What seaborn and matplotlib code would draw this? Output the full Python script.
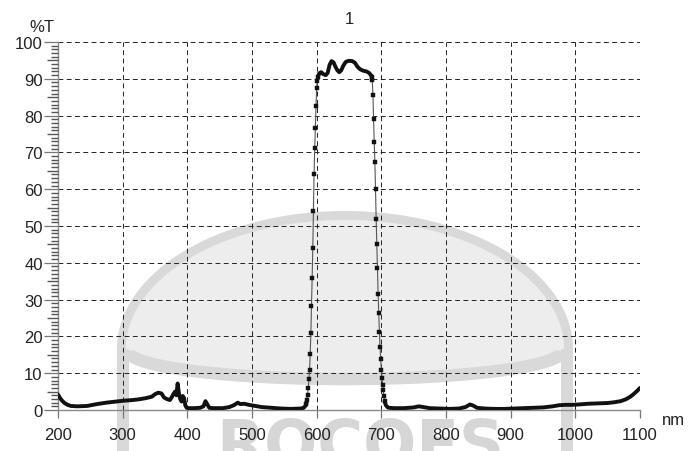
import numpy as np
import pandas as pd
import matplotlib
matplotlib.use("Agg")
import matplotlib.pyplot as plt
from matplotlib.patches import Polygon, Rectangle
from matplotlib.ticker import FixedLocator, NullLocator
import seaborn as sns

# ---------------- data ----------------
wavelength_nm = [
    200, 203, 206, 210, 215, 220, 230, 245, 260, 275, 290, 300, 315, 325, 335, 345,
    350, 355, 360, 364, 368, 373, 376, 378, 381, 383, 385, 387, 389, 391, 393, 395,
    397, 399, 402, 410, 420, 425, 428, 431, 434, 440, 455, 465, 472, 478, 482, 488,
    495, 505, 515, 530, 545, 560, 575, 580, 583,
    584, 585, 586, 587, 588, 589, 590, 591, 592, 593, 594, 595, 596, 597, 598, 599,
    600, 601, 602,
    604, 607, 610, 614, 617, 620, 623, 626, 629, 632, 635, 638, 641, 645, 650, 655,
    659, 663, 667, 672, 677, 681, 684, 685,
    686, 687, 688, 689, 690, 691, 692, 693, 694, 695, 696, 697, 698, 699, 700, 701,
    702, 703, 704, 705, 707, 710,
    712, 720, 735, 750, 758, 765, 775, 790, 805, 820, 830, 837, 842, 848, 860, 875,
    890, 905, 920, 935, 950, 965, 975, 985, 995, 1005, 1020, 1035, 1050, 1060, 1070,
    1078, 1085, 1090, 1095, 1100,
]
transmission_pct = [
    4.2, 3.3, 2.6, 1.9, 1.4, 1.1, 1.0, 1.1, 1.6, 2.0, 2.3, 2.5, 2.7, 2.9, 3.2, 3.6,
    4.3, 4.7, 4.5, 3.4, 3.0, 2.7, 3.5, 4.2, 5.0, 4.0, 7.2, 4.5, 3.0, 2.3, 3.8, 3.2,
    1.2, 0.6, 0.5, 0.5, 0.6, 1.0, 2.4, 1.5, 0.6, 0.5, 0.5, 0.8, 1.3, 2.0, 1.6, 1.7,
    1.4, 1.1, 0.8, 0.6, 0.4, 0.3, 0.4, 0.6, 1.2,
    1.7, 2.8, 4.2, 6.0, 8.3, 10.8, 15.3, 20.8, 28.3, 35.8, 44.0, 54.0, 64.2, 71.3, 76.7, 82.6,
    87.4, 89.4, 90.5,
    91.5, 91.8, 91.3, 91.0, 91.6, 93.8, 94.8, 94.5, 93.3, 92.3, 91.8, 92.3, 93.5, 94.6, 94.9, 94.8,
    94.4, 93.3, 92.6, 92.2, 92.0, 91.6, 91.0, 90.6,
    89.6, 85.7, 79.0, 72.9, 67.4, 60.0, 51.8, 45.0, 38.7, 31.5, 26.4, 21.2, 17.0, 13.8, 11.0, 8.7,
    6.9, 5.3, 3.7, 2.4, 1.3, 0.7,
    0.6, 0.5, 0.5, 0.7, 1.0, 0.8, 0.5, 0.4, 0.3, 0.4, 0.8, 1.5, 1.2, 0.6, 0.4, 0.3,
    0.3, 0.4, 0.5, 0.6, 0.7, 1.0, 1.3, 1.4, 1.4, 1.5, 1.7, 1.8, 1.9, 2.1, 2.4,
    2.9, 3.6, 4.3, 5.1, 6.0,
]
x_ticks = [200, 300, 400, 500, 600, 700, 800, 900, 1000, 1100]
y_ticks = [0, 10, 20, 30, 40, 50, 60, 70, 80, 90, 100]
y_minor_step = 1
chart_title = "1"
x_unit = "nm"
y_unit = "%T"

df = pd.DataFrame({"nm": wavelength_nm, "T": transmission_pct})

# ---------------- style ----------------
sns.set_style("ticks")
plt.rcParams["font.family"] = ["Liberation Sans", "DejaVu Sans"]

W, H = 689, 452
fig = plt.figure(figsize=(W / 100, H / 100), dpi=100)

# ---------------- background watermark (decoration) ----------------
bg = fig.add_axes([0, 0, 1, 1])
bg.set_xlim(0, W)
bg.set_ylim(H, 0)
bg.axis("off")
bg.set_zorder(0)
band = "#d9d9d9"
cx, base = 345, 350
t = np.linspace(0, np.pi, 300)
upper_in = np.column_stack([cx - 219 * np.cos(t), base - 129 * np.sin(t)])
lower_mid = np.column_stack([cx + 219 * np.cos(t), base + 2 + 28 * np.sin(t)])
bg.add_patch(Polygon(np.vstack([upper_in, lower_mid]), closed=True,
                     facecolor="#ededed", edgecolor="none"))
bg.plot(cx - 223.5 * np.cos(t), base - 133.5 * np.sin(t), color=band, lw=6.5,
        solid_capstyle="butt")
bg.plot(cx - 217 * np.cos(t), base + 2 + 28 * np.sin(t), color=band, lw=9,
        solid_capstyle="butt")
bg.add_patch(Rectangle((117, base), 12, H - base, facecolor=band, edgecolor="none"))
bg.add_patch(Rectangle((561, base), 12, H - base, facecolor=band, edgecolor="none"))
bg.text(360, 418, "ROCOES", ha="center", va="top", fontsize=45, fontweight="bold",
        color="#d6d6d6", family="DejaVu Sans")

# ---------------- main axes ----------------
ax_w_px = 582
ax = fig.add_axes([58 / W, 1 - 411 / H, ax_w_px / W, 368 / H])
ax.set_zorder(1)
ax.patch.set_alpha(0)

edge_rise = df[(df.nm >= 584) & (df.nm <= 602)]
edge_fall = df[(df.nm >= 685) & (df.nm <= 706)]
flat_left = df[df.nm <= 585]
flat_top = df[(df.nm >= 602) & (df.nm <= 686)]
flat_right = df[df.nm >= 705]

for part in (flat_left, flat_top, flat_right):
    sns.lineplot(data=part, x="nm", y="T", ax=ax, color="#111111", lw=2.8,
                 estimator=None, sort=False, zorder=3)
for part in (edge_rise, edge_fall):
    sns.lineplot(data=part, x="nm", y="T", ax=ax, color="#555555", lw=0.8,
                 marker="s", markersize=3.0, markerfacecolor="#111111",
                 markeredgecolor="#111111", markeredgewidth=0.3,
                 estimator=None, sort=False, zorder=4)

ax.set_xlim(x_ticks[0], x_ticks[-1])
ax.set_ylim(y_ticks[0], y_ticks[-1])
ax.xaxis.set_major_locator(FixedLocator(x_ticks))
ax.yaxis.set_major_locator(FixedLocator(y_ticks))
ax.xaxis.set_minor_locator(NullLocator())
ax.yaxis.set_minor_locator(NullLocator())
ax.set_xlabel("")
ax.set_ylabel("")

ax.grid(True, which="major", color="#222222", lw=0.7, ls=(0, (5, 3.5)), zorder=1)
ax.set_axisbelow(True)

for s in ("top", "right"):
    ax.spines[s].set_visible(False)
for s in ("left", "bottom"):
    ax.spines[s].set_color("#8a8a8a")
    ax.spines[s].set_linewidth(1.0)

ax.tick_params(axis="x", which="major", direction="out", length=6, width=0.9,
               color="#777777", pad=6, labelsize=12, labelcolor="#222222")
ax.tick_params(axis="y", which="major", direction="out", length=10, width=0.9,
               color="#777777", pad=1, labelsize=12, labelcolor="#222222")

# fine scale marks along the y axis (every unit, longer at the fives)
minor_vals = [v for v in np.arange(y_ticks[0], y_ticks[-1] + 0.5, y_minor_step)
              if v % 10 != 0]
short = [v for v in minor_vals if v % 5 != 0]
mid = [v for v in minor_vals if v % 5 == 0]
ytr = ax.get_yaxis_transform()
ax.hlines(short, -7 / ax_w_px, 0, transform=ytr, colors="#555555", lw=1.0,
          clip_on=False, zorder=5)
ax.hlines(mid, -11 / ax_w_px, 0, transform=ytr, colors="#555555", lw=1.0,
          clip_on=False, zorder=5)

fig.text(42 / W, 1 - 27.5 / H, y_unit, ha="center", va="center", fontsize=12,
         color="#222222")
fig.text(673 / W, 1 - 421 / H, x_unit, ha="center", va="center", fontsize=12,
         color="#222222")
fig.text(349 / W, 1 - 20 / H, chart_title, ha="center", va="center", fontsize=12,
         color="#222222")

fig.savefig("out.png", dpi=100)
